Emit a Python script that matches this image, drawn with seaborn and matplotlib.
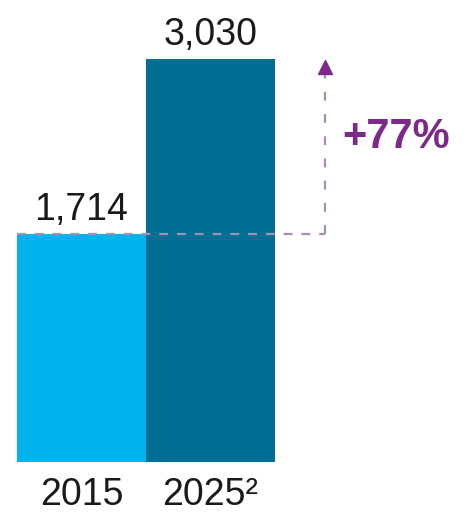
import matplotlib
matplotlib.use("Agg")
import matplotlib.pyplot as plt
import seaborn as sns
import pandas as pd

# Values shown on the chart
years = ["2015", "2025²"]
values = [1714, 3030]
bar_colors = ["#00B3EC", "#006F93"]

sns.set_style("white")
plt.rcParams["font.family"] = ["Liberation Sans", "DejaVu Sans"]

W, H = 463, 515
fig = plt.figure(figsize=(W / 100, H / 100), dpi=100)
ax = fig.add_axes([17 / W, 53 / H, 446 / W, 462 / H])

df = pd.DataFrame({"year": years, "value": values})
sns.barplot(data=df, x="year", y="value", hue="year", palette=bar_colors,
            order=years, hue_order=years, width=1.0, saturation=1,
            legend=False, linewidth=0, ax=ax)

ax.set_xlim(-0.5, 2.96)
ax.set_ylim(0, 3473)
sns.despine(ax=ax, left=True, bottom=True)
ax.set_yticks([])
ax.set_xlabel("")
ax.set_ylabel("")
ax.tick_params(axis="x", length=0, pad=11, labelsize=27, labelcolor="#1a1a1a")

# Value labels above each bar
for i, v in enumerate(values):
    ax.annotate(f"{v:,}", xy=(i, v), xytext=(0, 10), textcoords="offset points",
                ha="center", va="baseline", fontsize=27, color="#1a1a1a")

# Growth indicator: dashed baseline at the 2015 level and arrow up to 2025
arrow_x = 1.89
line_col = "#A58FB5"
ax.plot([-0.5, arrow_x], [values[0], values[0]], ls=(0, (4, 4)), lw=1.6,
        color=line_col, zorder=5)
ax.plot([arrow_x, arrow_x], [values[0], values[1] - 120], ls=(0, (4, 6)), lw=1.6,
        color=line_col, zorder=5)
ax.plot([arrow_x], [values[1] - 60], marker="^", markersize=10, color="#7B2A8A",
        zorder=6, clip_on=False)

growth = round((values[1] / values[0] - 1) * 100)
ax.text(2.02, 2361, f"+{growth}%", ha="left", va="baseline", fontsize=30,
        fontweight="bold", color="#7B2A8A")

fig.savefig("out.png", dpi=100)
